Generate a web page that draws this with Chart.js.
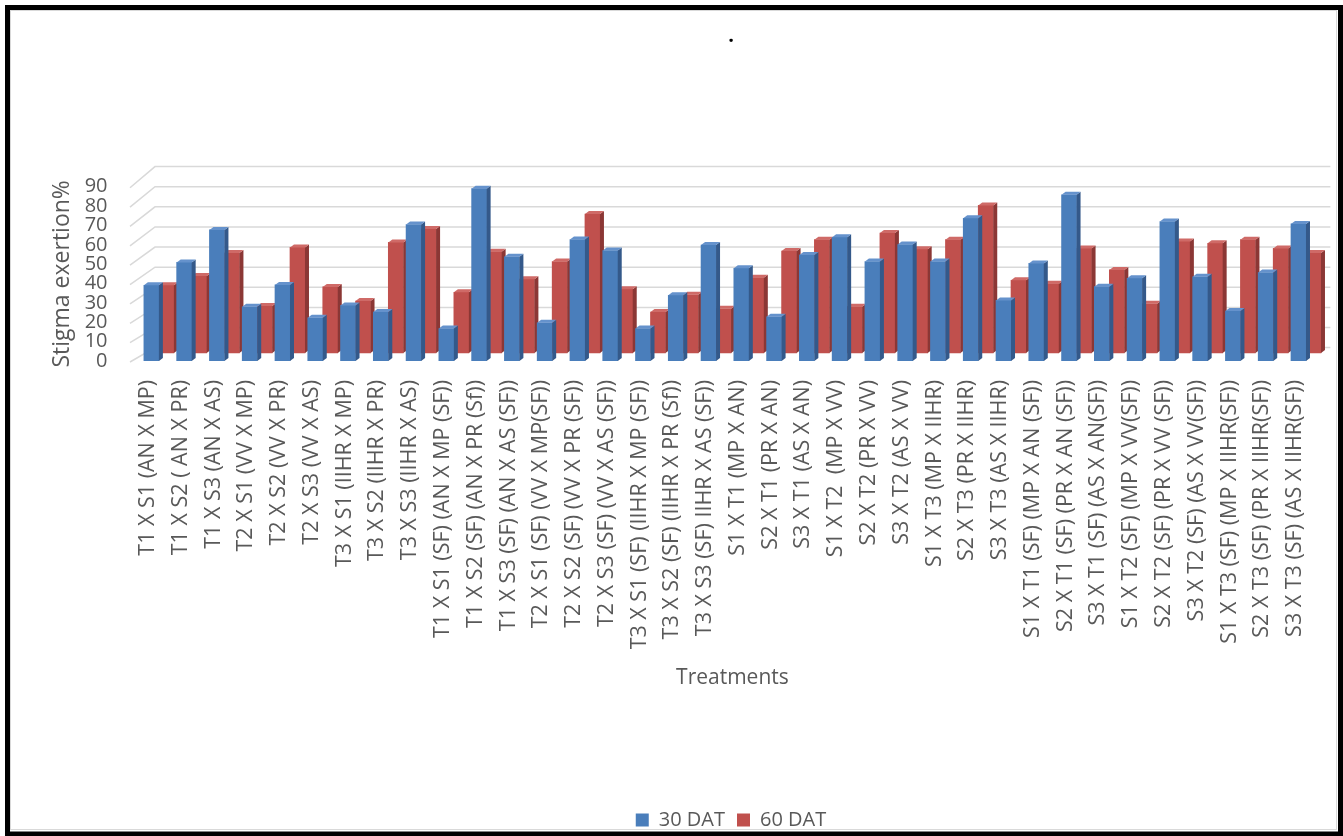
<!DOCTYPE html>
<html>
<head>
<meta charset="utf-8">
<script src="https://cdn.jsdelivr.net/npm/chart.js@4/dist/chart.umd.min.js"></script>
<style>
  html, body { margin: 0; padding: 0; background: #ffffff; }
  #wrap { position: relative; width: 1343px; height: 836px; }
  canvas { display: block; }
</style>
</head>
<body>
<div id="wrap"><canvas id="chart" width="1343" height="836"></canvas></div>
<script>
// Treatment combinations along the horizontal axis
const treatments = [
  'T1 X S1 (AN X MP)', 'T1 X S2 ( AN X PR)', 'T1 X S3 (AN X AS)',
  'T2 X S1 (VV X MP)', 'T2 X S2 (VV X PR)', 'T2 X S3 (VV X AS)',
  'T3 X S1 (IIHR X MP)', 'T3 X S2 (IIHR X PR)', 'T3 X S3 (IIHR X AS)',
  'T1 X S1 (SF) (AN X MP (SF))', 'T1 X S2 (SF) (AN X PR (Sf))', 'T1 X S3 (SF) (AN X AS (SF))',
  'T2 X S1 (SF) (VV X MP(SF))', 'T2 X S2 (SF) (VV X PR (SF))', 'T2 X S3 (SF) (VV X AS (SF))',
  'T3 X S1 (SF) (IIHR X MP (SF))', 'T3 X S2 (SF) (IIHR X PR (Sf))', 'T3 X S3 (SF) IIHR X AS (SF))',
  'S1 X T1 (MP X AN)', 'S2 X T1 (PR X AN)', 'S3 X T1 (AS X AN)',
  'S1 X T2  (MP X VV)', 'S2 X T2 (PR X VV)', 'S3 X T2 (AS X VV)',
  'S1 X T3 (MP X IIHR)', 'S2 X T3 (PR X IIHR)', 'S3 X T3 (AS X IIHR)',
  'S1 X T1 (SF) (MP X AN (SF))', 'S2 X T1 (SF) (PR X AN (SF))', 'S3 X T1 (SF) (AS X AN(SF))',
  'S1 X T2 (SF) (MP X VV(SF))', 'S2 X T2 (SF) (PR X VV (SF))', 'S3 X T2 (SF) (AS X VV(SF))',
  'S1 X T3 (SF) (MP X IIHR(SF))', 'S2 X T3 (SF) (PR X IIHR(SF))', 'S3 X T3 (SF) (AS X IIHR(SF))'
];

// Stigma exertion (%) at 30 days after transplanting
const dat30 = [
  39.1, 50.9, 67.7, 28.0, 39.3, 22.3, 28.7, 25.3, 70.5,
  16.8, 89.0, 53.8, 19.7, 62.7, 57.0, 16.8, 33.9, 59.9,
  47.9, 22.8, 54.7, 63.9, 51.4, 60.1, 51.4, 73.7, 31.3,
  50.4, 85.8, 38.4, 42.7, 72.0, 43.5, 25.8, 45.7, 70.8
];

// Stigma exertion (%) at 60 days after transplanting
const dat60 = [
  34.9, 39.8, 51.6, 24.2, 54.5, 34.1, 26.8, 57.1, 64.0,
  31.3, 52.3, 38.1, 47.2, 71.7, 32.9, 21.1, 30.0, 22.8,
  38.9, 52.6, 58.5, 23.9, 61.9, 53.6, 58.5, 76.2, 37.5,
  35.8, 54.0, 42.9, 25.4, 57.6, 56.6, 58.5, 54.0, 51.6
];

const seriesNames = ['30 DAT', '60 DAT'];
const yTicks = [0, 10, 20, 30, 40, 50, 60, 70, 80, 90];

const TEXT = '#595959';
const FONT = 'Open Sans';
Chart.defaults.font.family = FONT;
Chart.defaults.color = TEXT;

// Extruded side and top faces give each column its 3-D look
const DEPTH_X = 4, DEPTH_Y = -3;
const columnFaces = {
  id: 'columnFaces',
  afterDatasetDraw(chart, args) {
    const ds = chart.data.datasets[args.index];
    const ctx = chart.ctx;
    ctx.save();
    args.meta.data.forEach(bar => {
      const p = bar.getProps(['x', 'y', 'base', 'width'], true);
      const l = p.x - p.width / 2, r = p.x + p.width / 2;
      ctx.fillStyle = ds.sideColor;
      ctx.beginPath();
      ctx.moveTo(r, p.y);
      ctx.lineTo(r + DEPTH_X, p.y + DEPTH_Y);
      ctx.lineTo(r + DEPTH_X, p.base + DEPTH_Y);
      ctx.lineTo(r, p.base);
      ctx.closePath();
      ctx.fill();
      ctx.fillStyle = ds.topColor;
      ctx.beginPath();
      ctx.moveTo(l, p.y);
      ctx.lineTo(l + DEPTH_X, p.y + DEPTH_Y);
      ctx.lineTo(r + DEPTH_X, p.y + DEPTH_Y);
      ctx.lineTo(r, p.y);
      ctx.closePath();
      ctx.fill();
    });
    ctx.restore();
  }
};

// Back wall gridlines plus the slanted side-wall strokes
const wallGrid = {
  id: 'wallGrid',
  beforeDatasetsDraw(chart) {
    const ctx = chart.ctx;
    const front = chart.scales.y, wall = chart.scales.yWall;
    const area = chart.chartArea;
    const sideX = area.left - 12.5, backX = area.left + 12.5, backEnd = area.right + 8;
    ctx.save();
    ctx.strokeStyle = '#d9d9d9';
    ctx.lineWidth = 1.5;
    yTicks.forEach(v => {
      const yf = front.getPixelForValue(v);
      const yw = wall.getPixelForValue(v);
      ctx.beginPath();
      ctx.moveTo(sideX, yf + 1);
      ctx.lineTo(backX, yw);
      ctx.lineTo(backEnd, yw);
      ctx.stroke();
    });
    ctx.restore();
  }
};

// Outer frame of the figure
const frame = {
  id: 'frame',
  afterDraw(chart) {
    const ctx = chart.ctx;
    ctx.save();
    ctx.strokeStyle = '#d9d9d9';
    ctx.lineWidth = 1;
    ctx.strokeRect(10.5, 10.5, 1326, 819);
    ctx.strokeStyle = '#000000';
    ctx.lineWidth = 5;
    ctx.strokeRect(7.5, 7.5, 1333, 826.5);
    ctx.restore();
  }
};

new Chart(document.getElementById('chart'), {
  type: 'bar',
  data: {
    labels: treatments,
    datasets: [
      {
        label: seriesNames[0],
        data: dat30,
        backgroundColor: '#4a7ebb',
        sideColor: '#34598a',
        topColor: '#6592cc',
        yAxisID: 'y',
        barThickness: 15
      },
      {
        label: seriesNames[1],
        data: dat60,
        backgroundColor: '#c0504d',
        sideColor: '#8b3735',
        topColor: '#cf6a67',
        yAxisID: 'yBack',
        barThickness: 15
      }
    ]
  },
  options: {
    responsive: false,
    animation: false,
    devicePixelRatio: 1,
    layout: { padding: { left: 0, right: -119, top: 0, bottom: -4 } },
    plugins: {
      title: {
        display: true,
        text: '.',
        color: '#000000',
        font: { family: FONT, size: 20 },
        padding: { top: 24, bottom: 138.7 }
      },
      legend: {
        position: 'bottom',
        labels: {
          boxWidth: 13,
          boxHeight: 13,
          padding: 12,
          color: TEXT,
          font: { family: FONT, size: 20 }
        }
      },
      tooltip: { enabled: false }
    },
    scales: {
      x: {
        grid: { display: false },
        border: { display: false },
        ticks: {
          autoSkip: false,
          maxRotation: 90,
          minRotation: 90,
          padding: 11,
          labelOffset: -11,
          color: TEXT,
          font: { family: FONT, size: 21.5 }
        },
        title: {
          display: true,
          text: 'Treatments',
          color: TEXT,
          font: { family: FONT, size: 21 },
          padding: { top: 0, bottom: 107 }
        },
        afterFit(scale) { scale.height = 437; }
      },
      y: {
        min: 0,
        max: 90,
        grid: { display: false },
        border: { display: false },
        ticks: {
          autoSkip: false,
          stepSize: 10,
          padding: 27,
          color: TEXT,
          font: { family: FONT, size: 20 }
        },
        title: {
          display: true,
          text: 'Stigma exertion%',
          color: TEXT,
          font: { family: FONT, size: 23 },
          padding: { top: 48.2, bottom: 0 }
        },
        afterFit(scale) { scale.width = 142.5; }
      },
      yPad: {
        position: 'right',
        grid: { display: false },
        border: { display: false },
        ticks: { display: false },
        afterFit(scale) { scale.width = 135; }
      },
      yBack: { display: false, min: -4.15, max: 85.85 },
      yWall: { display: false, min: -6.65, max: 80 }
    }
  },
  plugins: [wallGrid, columnFaces, frame]
});
</script>
</body>
</html>
